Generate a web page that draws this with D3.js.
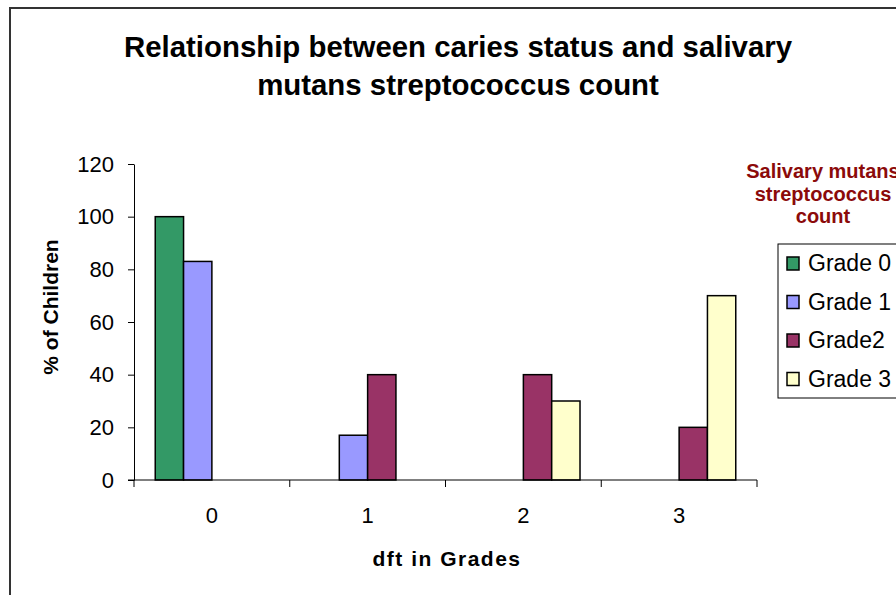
<!DOCTYPE html>
<html>
<head>
<meta charset="utf-8">
<title>Caries status chart</title>
<script src="https://cdn.jsdelivr.net/npm/d3@7"></script>
<style>
  body { margin: 0; background: #fff; }
  text { font-family: "Liberation Sans", Arial, sans-serif; }
  .bar { stroke: #000; stroke-width: 1.5px; }
  .axis path, .axis line { stroke: #000; }
</style>
</head>
<body>
<div id="chart"></div>
<script>
// data
var categories = ["0", "1", "2", "3"];
var seriesNames = ["Grade 0", "Grade 1", "Grade2", "Grade 3"];
var grade0 = [100, 0, 0, 0];
var grade1 = [83, 17, 0, 0];
var grade2 = [0, 40, 40, 20];
var grade3 = [0, 0, 30, 70];
var yTicks = [0, 20, 40, 60, 80, 100, 120];
var colors = ["#339966", "#9999ff", "#993366", "#ffffcc"];

var seriesValues = [grade0, grade1, grade2, grade3];

var width = 896, height = 595;
var svg = d3.select("#chart").append("svg")
    .attr("width", width)
    .attr("height", height);

// outer chart frame (runs off right / bottom edge like the original)
svg.append("rect")
    .attr("x", 10).attr("y", 8)
    .attr("width", 1000).attr("height", 1000)
    .attr("fill", "none")
    .attr("stroke", "#333")
    .attr("stroke-width", 2);

var plot = { left: 134, right: 757, top: 164, bottom: 480 };

var x = d3.scaleBand()
    .domain(categories)
    .range([plot.left, plot.right])
    .padding(0);

var xs = d3.scaleBand()
    .domain(seriesNames)
    .range([0, x.bandwidth()])
    .paddingInner(0)
    .paddingOuter(0.75);

var y = d3.scaleLinear()
    .domain([0, 120])
    .range([plot.bottom, plot.top]);

// title
var title = svg.append("text")
    .attr("text-anchor", "middle")
    .attr("font-size", "29.4px")
    .attr("font-weight", "bold");
title.append("tspan").attr("x", 458).attr("y", 57)
    .text("Relationship between caries status and salivary");
title.append("tspan").attr("x", 458).attr("y", 95)
    .text("mutans streptococcus count");

// bars
var rows = [];
seriesNames.forEach(function(s, i) {
  categories.forEach(function(c, j) {
    if (seriesValues[i][j] > 0) rows.push({ s: s, c: c, v: seriesValues[i][j], col: colors[i] });
  });
});

svg.selectAll(".bar")
    .data(rows)
  .enter().append("rect")
    .attr("class", "bar")
    .attr("x", function(d) { return x(d.c) + xs(d.s); })
    .attr("y", function(d) { return y(d.v); })
    .attr("width", xs.bandwidth())
    .attr("height", function(d) { return y(0) - y(d.v); })
    .attr("fill", function(d) { return d.col; });

// y axis
var yAxis = svg.append("g")
    .attr("class", "axis")
    .attr("transform", "translate(" + plot.left + ",0)")
    .call(d3.axisLeft(y).tickValues(yTicks).tickSize(6).tickPadding(14).tickSizeOuter(0));
yAxis.selectAll("text")
    .attr("font-size", "22px")
    .attr("font-family", "Liberation Sans, Arial, sans-serif")
    .attr("fill", "#000");

// x axis: labels at category centres, ticks at category boundaries
var xAxis = svg.append("g")
    .attr("class", "axis")
    .attr("transform", "translate(0," + plot.bottom + ")")
    .call(d3.axisBottom(x).tickSize(0).tickPadding(0));
xAxis.select(".domain").attr("d", "M" + (plot.left - 6) + ",0H" + plot.right);
xAxis.selectAll("text")
    .attr("y", 43)
    .attr("dy", null)
    .attr("font-size", "22px")
    .attr("font-family", "Liberation Sans, Arial, sans-serif")
    .attr("fill", "#000");
var bounds = categories.map(function(c) { return x(c); }).concat([plot.right]);
xAxis.selectAll(".bound")
    .data(bounds)
  .enter().append("line")
    .attr("class", "bound")
    .attr("x1", function(d) { return d; })
    .attr("x2", function(d) { return d; })
    .attr("y1", 0).attr("y2", 7)
    .attr("stroke", "#000");

// axis titles
svg.append("text")
    .attr("x", 447).attr("y", 566)
    .attr("text-anchor", "middle")
    .attr("font-size", "21px")
    .attr("font-weight", "bold")
    .attr("letter-spacing", "1.5px")
    .text("dft in Grades");

svg.append("text")
    .attr("transform", "translate(58,307) rotate(-90)")
    .attr("text-anchor", "middle")
    .attr("font-size", "21px")
    .attr("font-weight", "bold")
    .text("% of Children");

// legend title
var lt = svg.append("text")
    .attr("text-anchor", "middle")
    .attr("font-size", "20px")
    .attr("font-weight", "bold")
    .attr("fill", "#8b0a0a");
["Salivary mutans", "streptococcus", "count"].forEach(function(t, i) {
  lt.append("tspan").attr("x", 823).attr("y", 178 + i * 22.5).text(t);
});

// legend box
svg.append("rect")
    .attr("x", 778).attr("y", 244)
    .attr("width", 200).attr("height", 154)
    .attr("fill", "#fff")
    .attr("stroke", "#000")
    .attr("stroke-width", 1);

var legend = svg.selectAll(".legend")
    .data(seriesNames)
  .enter().append("g")
    .attr("class", "legend")
    .attr("transform", function(d, i) { return "translate(787," + (271 + i * 38.5) + ")"; });
legend.append("rect")
    .attr("x", 0).attr("y", -14)
    .attr("width", 12).attr("height", 13)
    .attr("fill", function(d, i) { return colors[i]; })
    .attr("stroke", "#000")
    .attr("stroke-width", 1.5);
legend.append("text")
    .attr("x", 21).attr("y", 0)
    .attr("font-size", "23px")
    .text(function(d) { return d; });
</script>
</body>
</html>
